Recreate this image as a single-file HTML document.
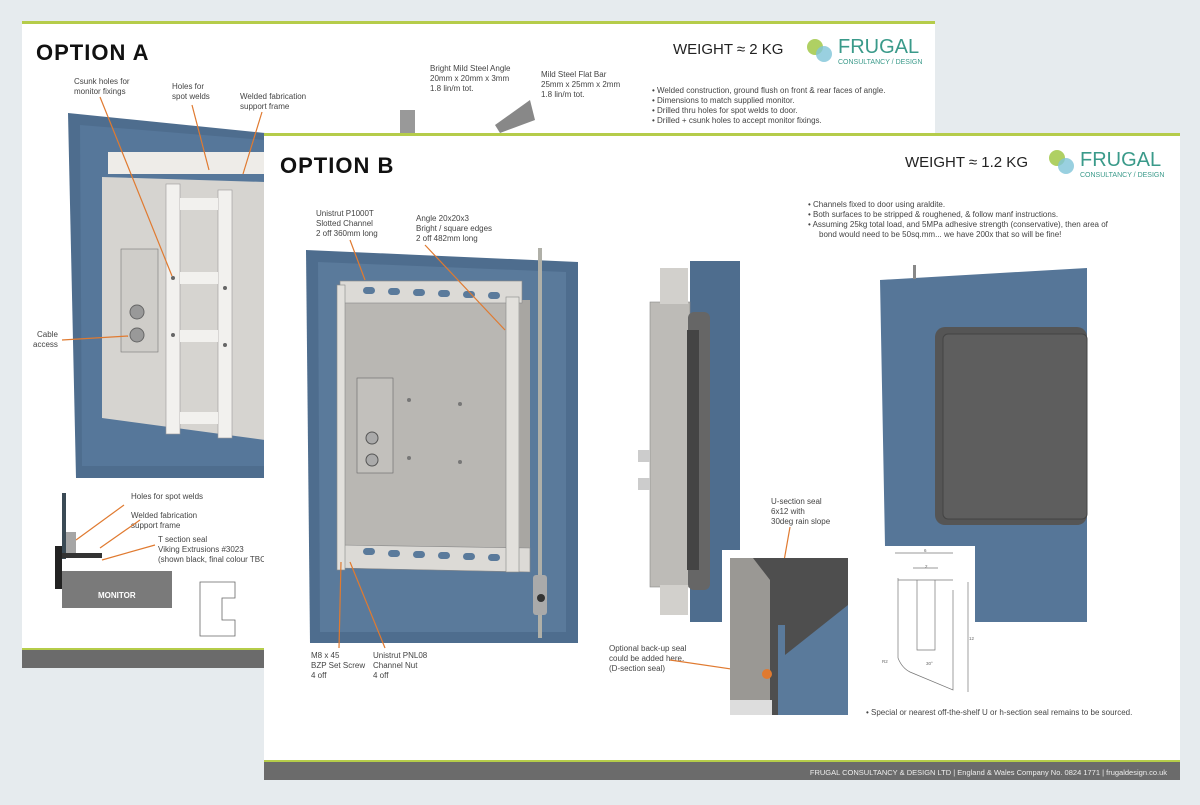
<!DOCTYPE html>
<html><head><meta charset="utf-8"><style>
html,body{margin:0;padding:0}
body{width:1200px;height:800px;background:#e6ebee;position:relative;overflow:hidden;font-family:"Liberation Sans",sans-serif}
svg text{font-family:"Liberation Sans",sans-serif}
</style></head><body>
<svg width="1200" height="800" viewBox="0 0 1200 800" xmlns="http://www.w3.org/2000/svg">
<!-- Slide A -->
<rect x="22" y="22" width="913" height="646" fill="#fff"/>
<rect x="22" y="21" width="913" height="3" fill="#b5cc4a"/>
<rect x="22" y="650" width="913" height="18" fill="#6b6b6b"/>
<rect x="22" y="648" width="913" height="2" fill="#b5cc4a"/>
<text x="36" y="60" font-size="22" font-weight="bold" fill="#111" letter-spacing="1">OPTION A</text>
<text x="673" y="54" font-size="15" fill="#222">WEIGHT ≈ 2 KG</text>
<circle cx="815" cy="47" r="8" fill="#9bc43c" opacity="0.8"/><circle cx="824" cy="54" r="8" fill="#7fc4d8" opacity="0.8"/>
<text x="838" y="53" font-size="20" fill="#3a9a8a">FRUGAL</text>
<text x="838" y="64" font-size="7" fill="#3a9a8a">CONSULTANCY / DESIGN</text>
<g font-size="8" fill="#444">
<text x="74" y="84">Csunk holes for</text><text x="74" y="94">monitor fixings</text>
<text x="172" y="89">Holes for</text><text x="172" y="99">spot welds</text>
<text x="240" y="99">Welded fabrication</text><text x="240" y="109">support frame</text>
<text x="430" y="71">Bright Mild Steel Angle</text><text x="430" y="81">20mm x 20mm x 3mm</text><text x="430" y="91">1.8 lin/m tot.</text>
<text x="541" y="77">Mild Steel Flat Bar</text><text x="541" y="87">25mm x 25mm x 2mm</text><text x="541" y="97">1.8 lin/m tot.</text>
<text x="652" y="93">•   Welded construction, ground flush on front &amp; rear faces of angle.</text>
<text x="652" y="103">•   Dimensions to match supplied monitor.</text>
<text x="652" y="113">•   Drilled thru holes for spot welds to door.</text>
<text x="652" y="123">•   Drilled + csunk holes to accept monitor fixings.</text>
<text x="37" y="337">Cable</text><text x="33" y="347">access</text>
<text x="131" y="499">Holes for spot welds</text>
<text x="131" y="518">Welded fabrication</text><text x="131" y="528">support frame</text>
<text x="158" y="542">T section seal</text><text x="158" y="552">Viking Extrusions #3023</text><text x="158" y="562">(shown black, final colour TBC</text>
</g>
<!-- door A -->
<polygon points="68,113 265,133 265,478 76,478" fill="#4e6d8e"/>
<polygon points="80,125 265,140 265,466 82,466" fill="#56779a"/>
<rect x="108" y="152" width="157" height="22" fill="#eeece8"/>
<polygon points="102,177 265,182 265,440 102,418" fill="#d6d4d0"/>
<rect x="166" y="184" width="14" height="250" fill="#f2f1ee" stroke="#999" stroke-width="0.6"/>
<rect x="218" y="190" width="14" height="248" fill="#f2f1ee" stroke="#999" stroke-width="0.6"/>
<rect x="180" y="198" width="38" height="12" fill="#f2f1ee"/>
<rect x="180" y="272" width="38" height="12" fill="#f2f1ee"/>
<rect x="180" y="330" width="38" height="12" fill="#f2f1ee"/>
<rect x="180" y="412" width="38" height="12" fill="#f2f1ee"/>
<rect x="121" y="249" width="37" height="103" fill="#cfcdc9" stroke="#777" stroke-width="0.6"/>
<circle cx="137" cy="312" r="7" fill="#999" stroke="#666"/><circle cx="137" cy="335" r="7" fill="#999" stroke="#666"/>
<g fill="#666"><circle cx="173" cy="278" r="2"/><circle cx="173" cy="335" r="2"/><circle cx="225" cy="288" r="2"/><circle cx="225" cy="345" r="2"/></g>
<rect x="400" y="110" width="15" height="23" fill="#999"/><polygon points="495,125 530,100 535,120 500,133" fill="#888"/>
<g stroke="#e07a30" stroke-width="1.2">
<line x1="100" y1="97" x2="172" y2="276"/><line x1="192" y1="105" x2="209" y2="170"/><line x1="262" y1="112" x2="243" y2="174"/>
<line x1="62" y1="340" x2="128" y2="336"/><line x1="124" y1="505" x2="76" y2="540"/><line x1="140" y1="520" x2="100" y2="548"/><line x1="155" y1="545" x2="102" y2="560"/>
</g>
<!-- section A -->
<rect x="62" y="493" width="4" height="66" fill="#3a4a55"/>
<rect x="66" y="532" width="10" height="25" fill="#a5a5a5"/>
<rect x="55" y="546" width="7" height="43" fill="#222"/>
<rect x="62" y="553" width="40" height="5" fill="#333"/>
<rect x="62" y="571" width="110" height="37" fill="#7a7a7a"/>
<text x="98" y="598" font-size="8" font-weight="bold" fill="#fff">MONITOR</text>
<path d="M200 582 H235 V598 H222 V620 H235 V636 H200 Z" fill="none" stroke="#666" stroke-width="0.8"/>
<!-- Slide B -->
<rect x="264" y="133" width="916" height="647" fill="#fff"/>
<rect x="264" y="133" width="916" height="3" fill="#b5cc4a"/>
<rect x="264" y="762" width="916" height="18" fill="#6b6b6b"/>
<rect x="264" y="760" width="916" height="2" fill="#b5cc4a"/>
<text x="1167" y="775" font-size="7.5" fill="#eee" text-anchor="end">FRUGAL CONSULTANCY &amp; DESIGN LTD |  England &amp; Wales Company No. 0824 1771  | frugaldesign.co.uk</text>
<text x="280" y="173" font-size="22" font-weight="bold" fill="#111" letter-spacing="1">OPTION B</text>
<text x="905" y="167" font-size="15" fill="#222">WEIGHT ≈ 1.2 KG</text>
<circle cx="1057" cy="158" r="8" fill="#9bc43c" opacity="0.8"/><circle cx="1066" cy="166" r="8" fill="#7fc4d8" opacity="0.8"/>
<text x="1080" y="166" font-size="20" fill="#3a9a8a">FRUGAL</text>
<text x="1080" y="177" font-size="7" fill="#3a9a8a">CONSULTANCY / DESIGN</text>
<g font-size="8" fill="#444">
<text x="316" y="216">Unistrut P1000T</text><text x="316" y="226">Slotted Channel</text><text x="316" y="236">2 off 360mm long</text>
<text x="416" y="221">Angle 20x20x3</text><text x="416" y="231">Bright / square edges</text><text x="416" y="241">2 off 482mm long</text>
<text x="808" y="207">•   Channels fixed to door using araldite.</text>
<text x="808" y="217">•   Both surfaces to be stripped &amp; roughened, &amp; follow manf instructions.</text>
<text x="808" y="227">•   Assuming 25kg total load, and 5MPa adhesive strength (conservative), then area of</text>
<text x="819" y="237">bond would need to be 50sq.mm... we have 200x that so will be fine!</text>
<text x="311" y="658">M8 x 45</text><text x="311" y="668">BZP Set Screw</text><text x="311" y="678">4 off</text>
<text x="373" y="658">Unistrut PNL08</text><text x="373" y="668">Channel Nut</text><text x="373" y="678">4 off</text>
<text x="771" y="504">U-section seal</text><text x="771" y="514">6x12 with</text><text x="771" y="524">30deg rain slope</text>
<text x="609" y="651">Optional back-up seal</text><text x="609" y="661">could be added here.</text><text x="609" y="671">(D-section seal)</text>
<text x="866" y="715">•   Special or nearest off-the-shelf U or h-section seal remains to be sourced.</text>
</g>
<!-- door B -->
<polygon points="306,250 578,262 578,643 310,643" fill="#4e6d8e"/>
<polygon points="318,262 566,272 566,632 320,632" fill="#5a7a9b"/>
<rect x="343" y="300" width="187" height="255" fill="#b9b7b3"/>
<rect x="520" y="300" width="10" height="255" fill="#a8a6a2"/>
<rect x="340" y="281" width="182" height="22" fill="#dcdad6" stroke="#888" stroke-width="0.6"/>
<polygon points="340,545 530,548 530,572 340,568" fill="#dcdad6" stroke="#888" stroke-width="0.6"/>
<rect x="337" y="285" width="8" height="285" fill="#e2e0dc" stroke="#888" stroke-width="0.6"/>
<rect x="506" y="297" width="13" height="275" fill="#e2e0dc" stroke="#888" stroke-width="0.6"/>
<g fill="#5a7a9b"><rect x="363" y="287" width="12" height="7" rx="3.5"/><rect x="388" y="288" width="12" height="7" rx="3.5"/><rect x="413" y="289" width="12" height="7" rx="3.5"/><rect x="438" y="290" width="12" height="7" rx="3.5"/><rect x="463" y="291" width="12" height="7" rx="3.5"/><rect x="488" y="292" width="12" height="7" rx="3.5"/>
<rect x="363" y="548" width="12" height="7" rx="3.5"/><rect x="388" y="550" width="12" height="7" rx="3.5"/><rect x="413" y="551" width="12" height="7" rx="3.5"/><rect x="438" y="552" width="12" height="7" rx="3.5"/><rect x="463" y="553" width="12" height="7" rx="3.5"/><rect x="488" y="554" width="12" height="7" rx="3.5"/></g>
<rect x="357" y="378" width="36" height="95" fill="#c2c0bc" stroke="#666" stroke-width="0.6"/>
<circle cx="372" cy="438" r="6" fill="#aaa" stroke="#555"/><circle cx="372" cy="460" r="6" fill="#aaa" stroke="#555"/>
<g fill="#777"><circle cx="409" cy="400" r="2"/><circle cx="460" cy="404" r="2"/><circle cx="409" cy="458" r="2"/><circle cx="460" cy="462" r="2"/></g>
<rect x="538" y="248" width="4" height="390" fill="#b0b0a8"/>
<rect x="533" y="575" width="14" height="40" fill="#aaa" rx="3"/><circle cx="541" cy="598" r="4" fill="#333"/>
<g stroke="#e07a30" stroke-width="1.2">
<line x1="350" y1="240" x2="365" y2="280"/><line x1="425" y1="245" x2="505" y2="330"/>
<line x1="339" y1="648" x2="341" y2="562"/><line x1="385" y1="648" x2="350" y2="562"/>
<line x1="790" y1="527" x2="778" y2="595"/><line x1="670" y1="660" x2="765" y2="674"/>
</g>
<!-- side view -->
<polygon points="690,261 740,261 740,550 722,550 722,622 690,622" fill="#4e6d8e"/>
<rect x="650" y="302" width="40" height="285" fill="#bdbbb7" stroke="#888" stroke-width="0.6"/>
<rect x="660" y="268" width="28" height="36" fill="#d2d0cc"/>
<rect x="660" y="585" width="28" height="30" fill="#d2d0cc"/>
<rect x="638" y="450" width="12" height="12" fill="#ccc"/><rect x="638" y="478" width="12" height="12" fill="#ccc"/>
<rect x="688" y="312" width="22" height="278" fill="#666" rx="6"/>
<rect x="687" y="330" width="12" height="240" fill="#444"/>
<!-- detail -->
<rect x="730" y="558" width="118" height="157" fill="#5a7a9b"/>
<rect x="730" y="558" width="42" height="157" fill="#9a9894"/>
<polygon points="753,558 848,558 848,605 785,655 785,625 778,625 778,715 770,715 770,580" fill="#4e4e4e"/>
<rect x="778" y="625" width="7" height="90" fill="#5a7a9b"/>
<rect x="730" y="700" width="42" height="15" fill="#ddd"/>
<circle cx="767" cy="674" r="5" fill="#e07a30"/>
<!-- front right -->
<polygon points="880,280 1087,268 1087,622 975,622 975,546 885,546" fill="#567698"/>
<rect x="913" y="265" width="3" height="14" fill="#888"/>
<rect x="935" y="327" width="152" height="198" rx="10" fill="#555"/>
<rect x="943" y="334" width="144" height="185" rx="5" fill="#5e5e5e" stroke="#444"/>
<!-- section drawing -->
<g fill="none" stroke="#777" stroke-width="0.7">
<path d="M898 578 V658 Q902 668 910 672 L953 690 V590"/>
<path d="M898 580 H953"/><path d="M917 580 V650 H935 V580"/>
<path d="M895 553 H953"/><path d="M913 568 H938"/><path d="M968 582 V692"/>
</g>
<g font-size="4.5" fill="#666"><text x="924" y="552">6</text><text x="925" y="568">2</text><text x="926" y="665">30°</text><text x="882" y="663">R2</text><text x="969" y="640">12</text></g>
</svg>
</body></html>
